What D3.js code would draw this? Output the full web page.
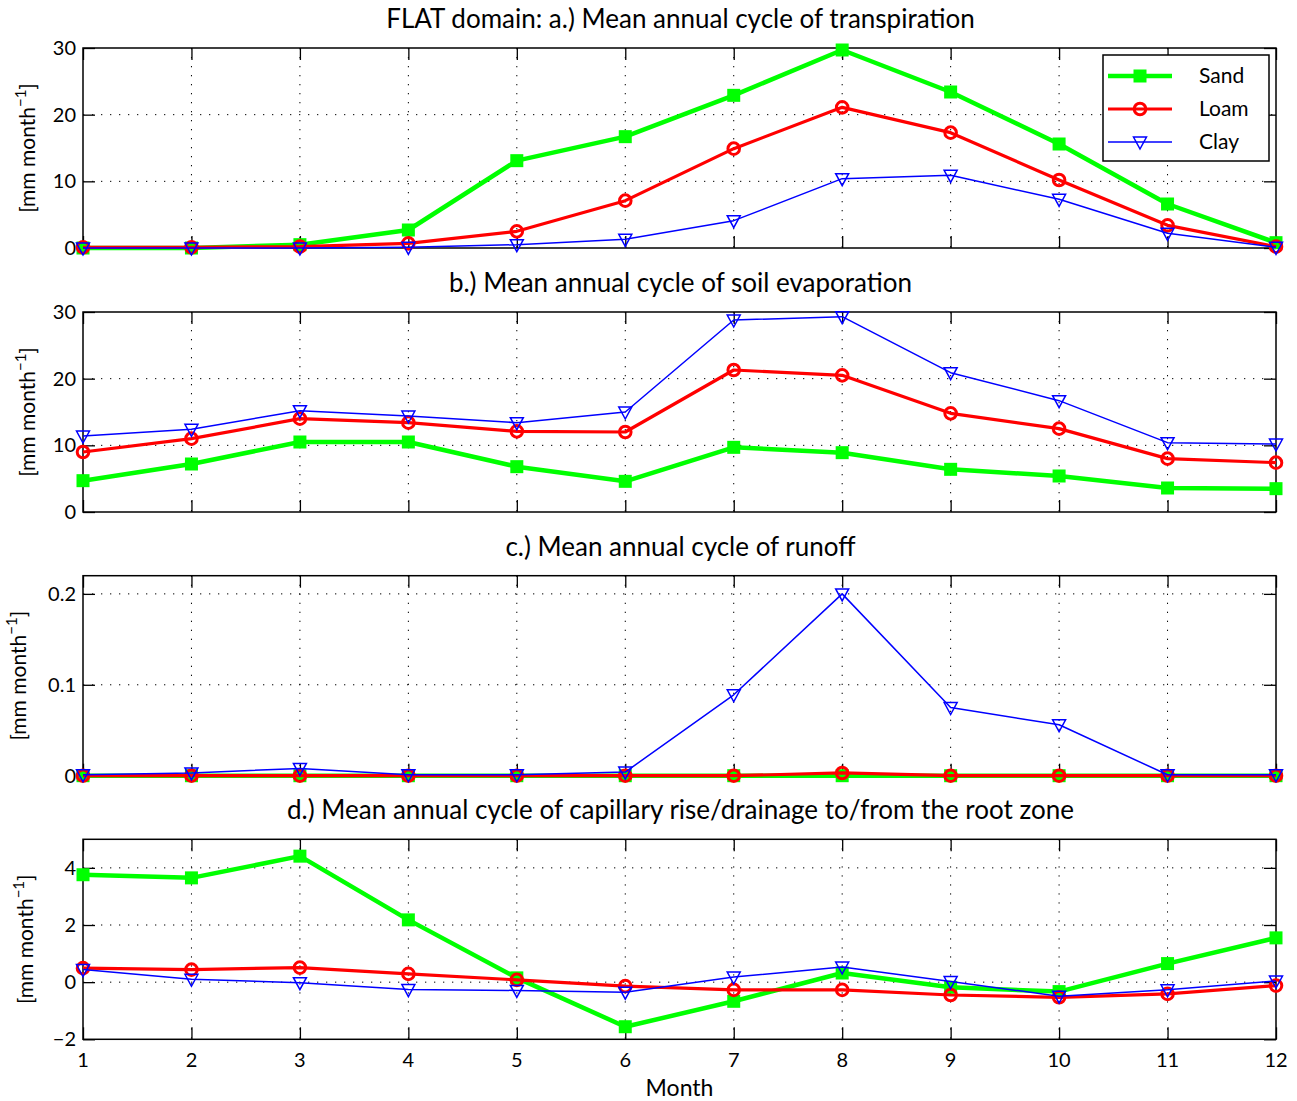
<!DOCTYPE html>
<html lang="en">
<head>
<meta charset="utf-8">
<title>FLAT domain mean annual cycles</title>
<script src="https://cdn.jsdelivr.net/npm/d3@7"></script>
<style>
  body { margin: 0; background: #fff; }
  text { font-family: Lato, "Open Sans", sans-serif; fill: #000; }
</style>
</head>
<body>
<script>
// months on the x axis
var months = [1, 2, 3, 4, 5, 6, 7, 8, 9, 10, 11, 12];
var seriesNames = ["Sand", "Loam", "Clay"];

// a.) transpiration
var sandTransp = [0.0, 0.0, 0.5, 2.7, 13.1, 16.7, 22.9, 29.7, 23.4, 15.6, 6.6, 0.8];
var loamTransp = [0.1, 0.1, 0.2, 0.7, 2.5, 7.1, 14.9, 21.1, 17.3, 10.2, 3.4, 0.2];
var clayTransp = [0.0, 0.0, 0.0, 0.1, 0.5, 1.3, 4.1, 10.4, 10.9, 7.3, 2.2, 0.1];

// b.) soil evaporation
var sandEvap = [4.7, 7.2, 10.5, 10.5, 6.8, 4.6, 9.7, 8.9, 6.4, 5.4, 3.6, 3.5];
var loamEvap = [9.0, 11.0, 14.0, 13.4, 12.1, 12.0, 21.3, 20.5, 14.8, 12.5, 8.0, 7.4];
var clayEvap = [11.4, 12.4, 15.2, 14.4, 13.4, 15.0, 28.8, 29.3, 20.9, 16.7, 10.4, 10.2];

// c.) runoff
var sandRunoff = [0, 0, 0, 0, 0, 0, 0, 0, 0, 0, 0, 0];
var loamRunoff = [0, 0, 0, 0, 0, 0, 0, 0.003, 0, 0, 0, 0];
var clayRunoff = [0.001, 0.003, 0.008, 0.001, 0.001, 0.004, 0.089, 0.2, 0.075, 0.056, 0.001, 0.001];

// d.) capillary rise / drainage
var sandCap = [3.76, 3.65, 4.41, 2.18, 0.15, -1.56, -0.67, 0.32, -0.18, -0.33, 0.65, 1.55];
var loamCap = [0.49, 0.44, 0.51, 0.29, 0.08, -0.14, -0.27, -0.27, -0.45, -0.53, -0.41, -0.12];
var clayCap = [0.44, 0.10, -0.02, -0.26, -0.29, -0.35, 0.18, 0.53, 0.02, -0.49, -0.27, 0.04];

// panel titles, y ranges and ticks
var titles = [
  "FLAT domain: a.) Mean annual cycle of transpiration",
  "b.) Mean annual cycle of soil evaporation",
  "c.) Mean annual cycle of runoff",
  "d.) Mean annual cycle of capillary rise/drainage to/from the root zone"
];
var yDomains = [[0, 30], [0, 30], [0, 0.22], [-2, 5]];
var yTicks = [[0, 10, 20, 30], [0, 10, 20, 30], [0, 0.1, 0.2], [-2, 0, 2, 4]];

var w = 1297, h = 1101;
var left = 83, right = 1276, panelH = 200;
var panelTops = [48, 312, 575.7, 839.3];
var yLabelX = [30, 30, 21, 28];

var panelData = [
  [sandTransp, loamTransp, clayTransp],
  [sandEvap, loamEvap, clayEvap],
  [sandRunoff, loamRunoff, clayRunoff],
  [sandCap, loamCap, clayCap]
];

var styles = {
  Sand: { color: "#00ff00", width: 4.5 },
  Loam: { color: "#ff0000", width: 3.2 },
  Clay: { color: "#0000ff", width: 1.5 }
};

var svg = d3.select("body").append("svg")
  .attr("width", w)
  .attr("height", h);

var x = d3.scaleLinear().domain([1, 12]).range([left, right]);

function drawMarker(g, name, cx, cy) {
  var c = styles[name].color;
  if (name === "Sand") {
    g.append("rect")
      .attr("x", cx - 6.5).attr("y", cy - 6.5)
      .attr("width", 13).attr("height", 13)
      .attr("fill", c);
  } else if (name === "Loam") {
    g.append("circle")
      .attr("cx", cx).attr("cy", cy).attr("r", 5.8)
      .attr("fill", "none").attr("stroke", c).attr("stroke-width", 3);
  } else {
    g.append("path")
      .attr("d", "M" + (cx - 6.5) + "," + (cy - 5) + "L" + (cx + 6.5) + "," + (cy - 5) + "L" + cx + "," + (cy + 7) + "Z")
      .attr("fill", "none").attr("stroke", c).attr("stroke-width", 1.5);
  }
}

panelData.forEach(function(series, p) {
  var top = panelTops[p];
  var y = d3.scaleLinear().domain(yDomains[p]).range([top + panelH, top]);
  var g = svg.append("g");

  //// grid
  g.selectAll(".vgrid")
    .data(months.slice(1, 11))
    .enter().append("line")
    .attr("x1", function(d) { return x(d); })
    .attr("x2", function(d) { return x(d); })
    .attr("y1", top).attr("y2", top + panelH)
    .attr("stroke", "#000").attr("stroke-width", 1)
    .attr("stroke-dasharray", "1.3,7.7");
  g.selectAll(".hgrid")
    .data(yTicks[p].filter(function(d) { return y(d) > top + 1 && y(d) < top + panelH - 1; }))
    .enter().append("line")
    .attr("x1", left).attr("x2", right)
    .attr("y1", function(d) { return y(d); })
    .attr("y2", function(d) { return y(d); })
    .attr("stroke", "#000").attr("stroke-width", 1)
    .attr("stroke-dasharray", "1.3,7.7");

  //// axes (inner ticks, mirrored)
  var fmt = p === 2 ? d3.format(".1~f") : d3.format("d");
  var yAxisL = d3.axisRight(y).tickValues(yTicks[p]).tickSize(12).tickFormat("");
  var yAxisR = d3.axisLeft(y).tickValues(yTicks[p]).tickSize(12).tickFormat("");
  var xAxisB = d3.axisTop(x).tickValues(months).tickSize(12).tickFormat("");
  var xAxisT = d3.axisBottom(x).tickValues(months).tickSize(12).tickFormat("");
  [
    [yAxisL, "translate(" + left + ",0)"],
    [yAxisR, "translate(" + right + ",0)"],
    [xAxisB, "translate(0," + (top + panelH) + ")"],
    [xAxisT, "translate(0," + top + ")"]
  ].forEach(function(a) {
    var ax = g.append("g").attr("transform", a[1]).call(a[0]);
    ax.select(".domain").remove();
    ax.selectAll("line").attr("stroke", "#000").attr("stroke-width", 1.3);
  });

  g.append("rect")
    .attr("x", left).attr("y", top)
    .attr("width", right - left).attr("height", panelH)
    .attr("fill", "none").attr("stroke", "#000").attr("stroke-width", 1.5);

  // y tick labels
  g.selectAll(".ylab")
    .data(yTicks[p])
    .enter().append("text")
    .attr("x", left - 7)
    .attr("y", function(d) { return y(d) + 7; })
    .attr("text-anchor", "end")
    .attr("font-size", "20px")
    .text(function(d) { return fmt(d); });

  // y axis label
  var yl = g.append("text")
    .attr("transform", "translate(" + yLabelX[p] + "," + (top + panelH / 2) + ") rotate(-90)")
    .attr("text-anchor", "middle")
    .attr("dominant-baseline", "middle")
    .attr("font-size", "21px");
  yl.append("tspan").text("[mm month");
  yl.append("tspan").attr("font-size", "15px").attr("dy", "-8").text("\u22121");
  yl.append("tspan").attr("dy", "8").text("]");

  // title
  g.append("text")
    .attr("x", (left + right) / 2 + 1)
    .attr("y", top - 20)
    .attr("text-anchor", "middle")
    .attr("font-size", "26px")
    .text(titles[p]);

  //// series lines + markers
  var line = d3.line()
    .x(function(d, i) { return x(months[i]); })
    .y(function(d) { return y(d); });

  series.forEach(function(vals, s) {
    var name = seriesNames[s];
    g.append("path")
      .datum(vals)
      .attr("d", line)
      .attr("fill", "none")
      .attr("stroke", styles[name].color)
      .attr("stroke-width", styles[name].width)
      .attr("stroke-linejoin", "round");
    var mg = g.append("g");
    vals.forEach(function(v, i) {
      drawMarker(mg, name, x(months[i]), y(v));
    });
  });

  //// x tick labels on the bottom panel
  if (p === 3) {
    g.selectAll(".xlab")
      .data(months)
      .enter().append("text")
      .attr("x", function(d) { return x(d); })
      .attr("y", top + panelH + 28)
      .attr("text-anchor", "middle")
      .attr("font-size", "20px")
      .text(function(d) { return d; });
    g.append("text")
      .attr("x", (left + right) / 2)
      .attr("y", top + panelH + 57)
      .attr("text-anchor", "middle")
      .attr("font-size", "23px")
      .text("Month");
  }
});

//// legend in panel a
var lg = svg.append("g");
lg.append("rect")
  .attr("x", 1103).attr("y", 55)
  .attr("width", 166).attr("height", 106)
  .attr("fill", "#fff").attr("stroke", "#000").attr("stroke-width", 1.5);
seriesNames.forEach(function(name, i) {
  var ly = 76 + i * 33;
  lg.append("line")
    .attr("x1", 1108).attr("x2", 1172)
    .attr("y1", ly).attr("y2", ly)
    .attr("stroke", styles[name].color)
    .attr("stroke-width", styles[name].width);
  drawMarker(lg, name, 1140, ly);
  lg.append("text")
    .attr("x", 1199).attr("y", ly + 7)
    .attr("font-size", "21px")
    .text(name);
});
</script>
</body>
</html>
